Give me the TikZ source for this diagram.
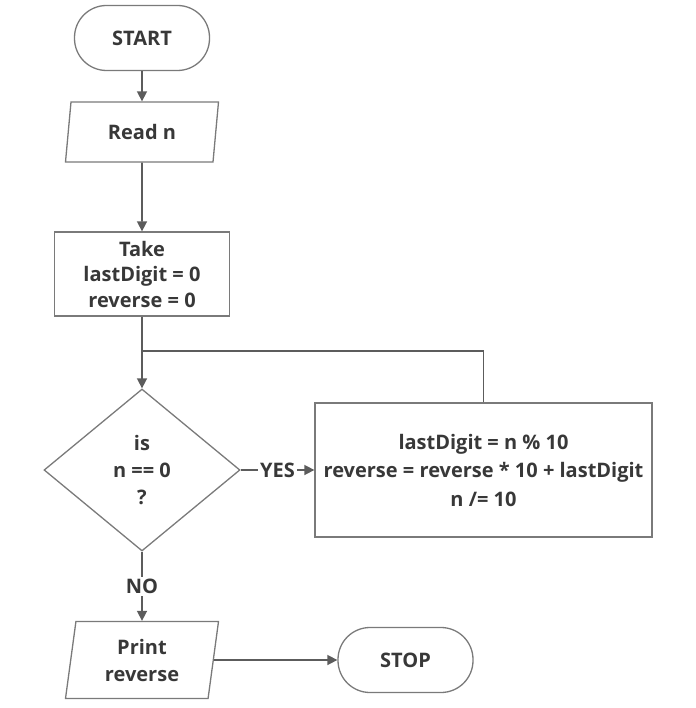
\documentclass[tikz,border=0pt]{standalone}
\usepackage{fontspec}
\setmainfont{Open Sans}
\usetikzlibrary{positioning, shapes.geometric, arrows.meta}
\definecolor{linegray}{HTML}{5C5C5C}
\definecolor{boxgray}{HTML}{7A7A7A}
\definecolor{textgray}{HTML}{383838}

\begin{document}
\begin{tikzpicture}[x=1pt, y=-1pt,
	every node/.style={font=\bfseries\fontsize{20}{27}\selectfont, text=textgray, align=center},
	terminal/.style={draw=boxgray, line width=1.3pt, rectangle, rounded corners=32pt, minimum width=135pt, minimum height=65pt},
	io/.style={draw=boxgray, line width=1.3pt, trapezium, trapezium left angle=76, trapezium right angle=104, trapezium stretches body, minimum width=153pt},
	process/.style={draw=boxgray, line width=1.3pt, rectangle},
	decision/.style={draw=boxgray, line width=1.3pt, diamond, minimum width=196pt, minimum height=162pt, inner sep=0pt},
	link/.style={draw=linegray, line width=1.6pt},
	flow/.style={link, -{Triangle[length=10pt, width=10pt]}}]
	\useasboundingbox (0,0) rectangle (695,708);

	\node[terminal] (start) at (142,38) {START};
	\node[io, minimum height=60pt] (read) at (142,132) {Read n};
	\node[process, minimum width=175pt, minimum height=84pt, font=\bfseries\fontsize{20}{25.5}\selectfont] (take) at (142,274) {Take\\lastDigit = 0\\reverse = 0};
	\node[decision] (check) at (142,470) {is\\n == 0\\?};
	\node[process, minimum width=337pt, minimum height=134pt, font=\bfseries\fontsize{20}{28.5}\selectfont] (body) at (483.5,470) {lastDigit = n \% 10\\reverse = reverse * 10 + lastDigit\\n /= 10};
	\node[io, minimum height=77pt, trapezium left angle=78, trapezium right angle=102] (print) at (142,660) {Print\\reverse};
	\node[terminal] (stop) at (405.5,660) {STOP};
	\coordinate (loop) at (142,351);

	\draw[flow] (start) -- (read);
	\draw[flow] (read) -- (take);
	\draw[flow] (take) -- (check);
	\draw[link] (body.north) |- (loop);
	\draw[flow] (check) -- node[fill=white, inner sep=2pt] {YES} (body);
	\draw[flow] (check) -- node[fill=white, inner sep=2pt] {NO} (print);
	\draw[flow] (print) -- (stop);
\end{tikzpicture}
\end{document}
